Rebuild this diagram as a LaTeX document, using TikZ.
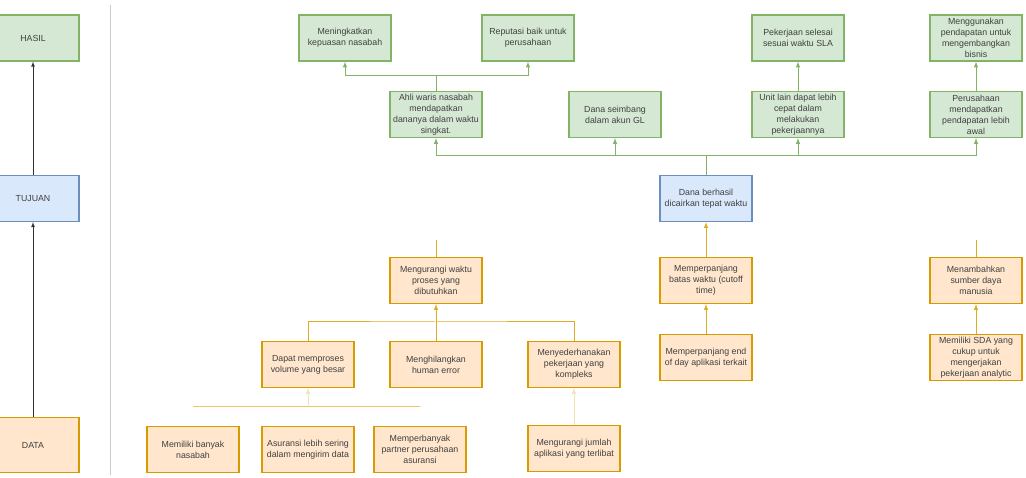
\documentclass[tikz,border=0pt]{standalone}
\usepackage{fontspec}
\setmainfont{Liberation Sans}
\usetikzlibrary{arrows}
\usepackage{color}

\definecolor{gfill}{RGB}{213,232,212}
\definecolor{gdraw}{RGB}{130,179,102}
\definecolor{bfill}{RGB}{218,232,252}
\definecolor{bdraw}{RGB}{108,142,191}
\definecolor{ofill}{RGB}{255,230,204}
\definecolor{odraw}{RGB}{215,155,0}
\definecolor{olink}{RGB}{224,172,40}

\begin{document}
\begin{tikzpicture}[x=1pt,y=-1pt,>=latex,
    box/.style={draw,rectangle,inner sep=1pt,align=center,line width=1.1pt,
                minimum width=92pt,minimum height=46pt,text=black!75,
                font=\fontsize{8.8}{11}\selectfont},
    gbox/.style={box,fill=gfill,draw=gdraw},
    bbox/.style={box,fill=bfill,draw=bdraw},
    obox/.style={box,fill=ofill,draw=odraw},
    gline/.style={draw=gdraw,line width=1pt},
    oline/.style={draw=olink,line width=1pt},
    ofaint/.style={draw=olink!35,line width=1pt}]

    \useasboundingbox (0,0) rectangle (1026,478);

    % left column
    \node[gbox] (Hasil) at (33,38) {HASIL};
    \node[bbox] (Tujuan) at (33,198.5) {TUJUAN};
    \node[obox,minimum height=55pt] (Data) at (33,445) {DATA};
    \draw[->,draw=black!80,line width=0.8pt] (Data) -- (Tujuan);
    \draw[->,draw=black!80,line width=0.8pt] (Tujuan) -- (Hasil);
    \coordinate (SepTop) at (110,5);
    \coordinate (SepBot) at (110,475);
    \draw[black!20,line width=1pt] (SepTop) -- (SepBot);

    % hasil
    \node[gbox] (Puas) at (345,38) {Meningkatkan\\kepuasan nasabah};
    \node[gbox] (Reputasi) at (528,38) {Reputasi baik untuk\\perusahaan};
    \node[gbox] (Selesai) at (798,38) {Pekerjaan selesai\\sesuai waktu SLA};
    \node[gbox] (Bisnis) at (976,38) {Menggunakan\\pendapatan untuk\\mengembangkan\\bisnis};

    \node[gbox] (Ahli) at (436,114.5) {Ahli waris nasabah\\mendapatkan\\dananya dalam waktu\\singkat.};
    \node[gbox] (Seimbang) at (615,114.5) {Dana seimbang\\dalam akun GL};
    \node[gbox] (Unit) at (798,114.5) {Unit lain dapat lebih\\cepat dalam\\melakukan\\pekerjaannya};
    \node[gbox] (Awal) at (976,114.5) {Perusahaan\\mendapatkan\\pendapatan lebih\\awal};

    \coordinate (BusA) at (436,76);
    \draw[gline,->] (Ahli.north) -- (BusA) -| (Puas.south);
    \draw[gline,->] (BusA) -| (Reputasi.south);
    \draw[gline,->] (Unit) -- (Selesai);
    \draw[gline,->] (Awal) -- (Bisnis);

    % tujuan
    \node[bbox] (Cair) at (706,198.5) {Dana berhasil\\dicairkan tepat waktu};
    \coordinate (BusB) at (706,156);
    \draw[gline] (Cair.north) -- (BusB);
    \draw[gline,->] (BusB) -| (Ahli.south);
    \draw[gline,->] (BusB) -| (Seimbang.south);
    \draw[gline,->] (BusB) -| (Unit.south);
    \draw[gline,->] (BusB) -| (Awal.south);

    % data
    \node[obox] (Proses) at (436,280.5) {Mengurangi waktu\\proses yang\\dibutuhkan};
    \node[obox] (Cutoff) at (706,280.5) {Memperpanjang\\batas waktu (cutoff\\time)};
    \node[obox] (Sdm) at (976,280.5) {Menambahkan\\sumber daya\\manusia};
    \coordinate (StubA) at (436,240);
    \coordinate (StubB) at (976,240);
    \draw[oline] (Proses.north) -- (StubA);
    \draw[oline] (Sdm.north) -- (StubB);
    \draw[oline,->] (Cutoff) -- (Cair);

    \node[obox] (Volume) at (308,364.5) {Dapat memproses\\volume yang besar};
    \node[obox] (Human) at (436,364.5) {Menghilangkan\\human error};
    \node[obox] (Sederhana) at (574,364.5) {Menyederhanakan\\pekerjaan yang\\kompleks};
    \node[obox] (Eod) at (706,357.5) {Memperpanjang end\\of day aplikasi terkait};
    \node[obox] (Analytic) at (976,357.5) {Memiliki SDA yang\\cukup untuk\\mengerjakan\\pekerjaan analytic};

    \coordinate (BusC) at (436,322);
    \draw[oline] (Volume.north) |- (BusC) -| (Sederhana.north);
    \draw[oline,->] (Human) -- (Proses);
    \draw[oline,->] (Eod) -- (Cutoff);
    \draw[oline,->] (Analytic) -- (Sdm);

    \node[obox] (Nasabah) at (193,449.5) {Memiliki banyak\\nasabah};
    \node[obox] (Kirim) at (308,449.5) {Asuransi lebih sering\\dalam mengirim data};
    \node[obox] (Partner) at (420,449.5) {Memperbanyak\\partner perusahaan\\asuransi};
    \node[obox] (Aplikasi) at (574,448.5) {Mengurangi jumlah\\aplikasi yang terlibat};

    \coordinate (BusDl) at (193,407);
    \coordinate (BusD) at (308,407);
    \coordinate (BusDr) at (420,407);
    \draw[oline,draw=olink!70] (BusDl) -- (BusDr);
    \draw[ofaint,->] (BusD) -- (Volume.south);
    \draw[ofaint,->] (Aplikasi) -- (Sederhana);
\end{tikzpicture}
\end{document}
